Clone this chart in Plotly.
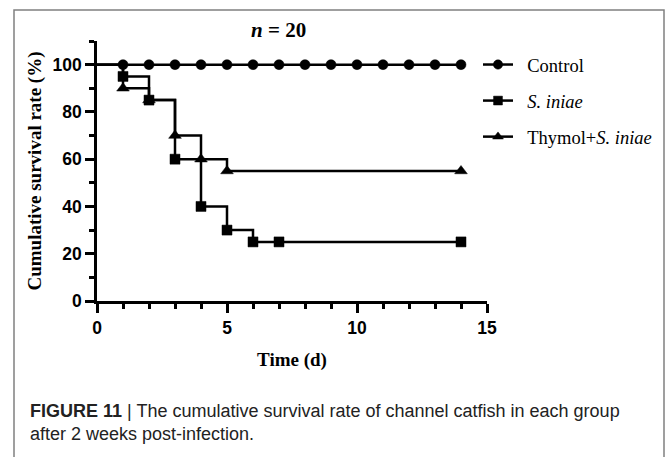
import plotly.graph_objects as go

# ---- data ----
control_days = [0, 1, 2, 3, 4, 5, 6, 7, 8, 9, 10, 11, 12, 13, 14]
control_rate = [100, 100, 100, 100, 100, 100, 100, 100, 100, 100, 100, 100, 100, 100, 100]
siniae_days = [0, 1, 2, 3, 4, 5, 6, 7, 14]
siniae_rate = [100, 95, 85, 60, 40, 30, 25, 25, 25]
thymol_days = [0, 1, 2, 3, 4, 5, 14]
thymol_rate = [100, 90, 85, 70, 60, 55, 55]
series_names = ["Control", "<i>S. iniae</i>", "Thymol+<i>S. iniae</i>"]
x_ticks = [0, 5, 10, 15]
y_ticks = [0, 20, 40, 60, 80, 100]

W, H = 670, 457
L, R, T, B = 97, 487, 41, 301  # plot area pixels
pw, ph = R - L, B - T


def px_x(p):
    return (p - L) / pw


def px_y(p):
    return (B - p) / ph


fig = go.Figure()
specs = [
    (control_days, control_rate, "circle", 10),
    (siniae_days, siniae_rate, "square", 10),
    (thymol_days, thymol_rate, "triangle-up", 11),
]
for i, ((xs, ys, sym, ms), name) in enumerate(zip(specs, series_names)):
    sizes = [0] + [ms] * (len(xs) - 1)
    fig.add_trace(go.Scatter(
        x=xs, y=ys, name="\u2002" + name, mode="lines+markers",
        line=dict(color="black", width=2.5, shape="hv"),
        marker=dict(symbol=sym, size=sizes, color="black", opacity=1,
                    line=dict(color="black", width=0.5)),
        legendgroup=f"g{i}",
        cliponaxis=False,
    ))

axis_common = dict(
    showline=True, linecolor="black", linewidth=2.5,
    ticks="outside", ticklen=9, tickwidth=2.5, tickcolor="black",
    showgrid=False, zeroline=False,
    tickfont=dict(family="Liberation Sans", size=17.5, color="black", weight="bold"),
)
fig.update_xaxes(
    range=[0, 15], tickvals=x_ticks,
    minor=dict(dtick=1, ticklen=5, tickwidth=2.5, tickcolor="black", ticks="outside", showgrid=False),
    title=dict(text="<b>Time (d)</b>", font=dict(family="Liberation Serif", size=19, color="black"), standoff=16),
    **axis_common,
)
fig.update_yaxes(
    range=[0, 110], tickvals=y_ticks,
    minor=dict(dtick=10, ticklen=5, tickwidth=2.5, tickcolor="black", ticks="outside", showgrid=False),
    title=dict(text="<b>Cumulative survival rate (%)</b>", font=dict(family="Liberation Serif", size=19, color="black"), standoff=6),
    **axis_common,
)

fig.update_layout(
    width=W, height=H,
    margin=dict(l=L, r=W - R, t=T, b=H - B),
    plot_bgcolor="white", paper_bgcolor="white",
    showlegend=True,
    legend=dict(
        x=px_x(478), y=px_y(46), xanchor="left", yanchor="top",
        font=dict(family="Liberation Serif", size=18.5, color="black"),
        traceorder="grouped", tracegroupgap=9,
        bgcolor="rgba(0,0,0,0)",
    ),
    shapes=[dict(
        type="rect", xref="paper", yref="paper",
        x0=px_x(14), x1=px_x(664), y0=px_y(470), y1=px_y(10),
        line=dict(color="#808080", width=1.5), layer="below",
    )],
    annotations=[
        dict(text="<b><i>n</i> = 20</b>", xref="paper", yref="paper",
             x=px_x(278), y=px_y(30), xanchor="center", yanchor="middle", showarrow=False,
             font=dict(family="Liberation Serif", size=21, color="black")),
        dict(text="<b>FIGURE 11</b> | The cumulative survival rate of channel catfish in each group",
             xref="paper", yref="paper", x=px_x(28), y=px_y(411), xanchor="left", yanchor="middle",
             showarrow=False, font=dict(family="Liberation Sans", size=18, color="#222")),
        dict(text="after 2 weeks post-infection.",
             xref="paper", yref="paper", x=px_x(28), y=px_y(434), xanchor="left", yanchor="middle",
             showarrow=False, font=dict(family="Liberation Sans", size=18, color="#222")),
    ],
)

fig.write_html("out.html")
